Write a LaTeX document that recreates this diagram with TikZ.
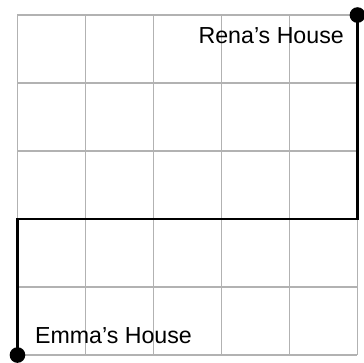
\documentclass[tikz,border=0pt]{standalone}
\usepackage{fontspec}
\setmainfont{Liberation Sans}
\usetikzlibrary{math}

\tikzset{
	gridline/.style={draw=gray!60, line width=0.55pt},
	route/.style={draw=black, line width=1.05pt},
	house/.style={circle, fill=black, inner sep=0pt, minimum size=0.23cm},
	housename/.style={inner sep=0pt, font=\fontsize{9.7}{11}\selectfont},
}

\begin{document}
\begin{tikzpicture}
	% Constants
	\tikzmath{\cells = 5; \turn = 2;}
	\useasboundingbox (-0.257,-0.103) rectangle (5.096,5.221);

	% Grid
	\foreach \i in {0,...,\cells} {
		\draw[gridline] (\i,0) -- (\i,\cells);
		\draw[gridline] (0,\i) -- (\cells,\i);
	}

	% Houses
	\node[house] (emma) at (0,0) {};
	\node[house] (rena) at (\cells,\cells) {};
	\coordinate (turnleft) at (0,\turn);
	\coordinate (turnright) at (\cells,\turn);

	% Route
	\draw[route] (emma.center) -- (turnleft) -- (turnright) -- (rena.center);

	% Labels
	\node[housename, anchor=base east] (renaname) at (4.806,4.584) {Rena’s House};
	\node[housename, anchor=base west] (emmaname) at (0.253,0.166) {Emma’s House};
\end{tikzpicture}
\end{document}
